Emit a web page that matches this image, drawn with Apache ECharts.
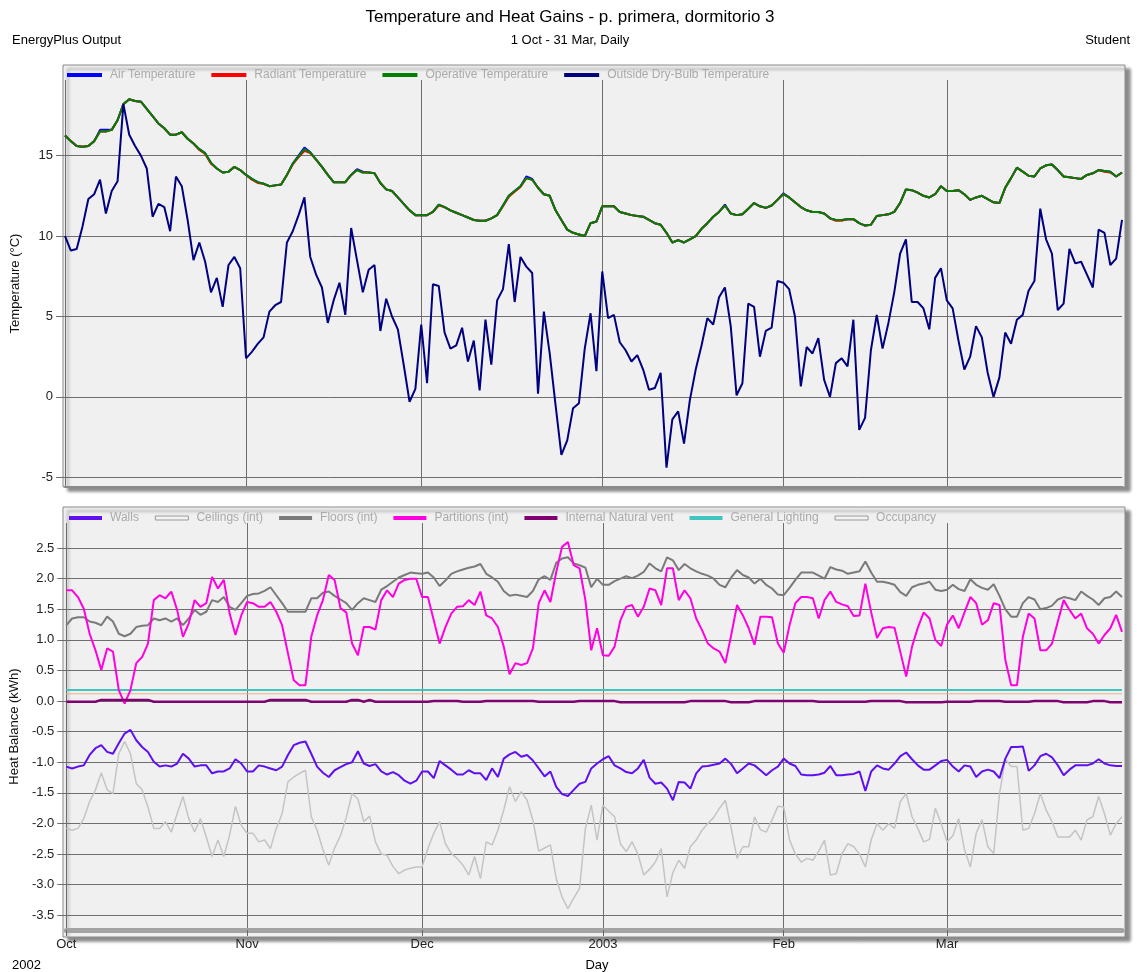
<!DOCTYPE html>
<html><head><meta charset="utf-8">
<script src="https://cdn.jsdelivr.net/npm/echarts@6/dist/echarts.min.js"></script>
<style>html,body{margin:0;padding:0;background:#fff}#c{width:1137px;height:972px}</style>
</head><body><div id="c"></div>
<script>
// ---------- categories / tick labels ----------
const startYear = 2002, startMonth = 9, startDay = 1, nDays = 182;
const monthStarts = ['2002-10-01','2002-11-01','2002-12-01','2003-01-01','2003-02-01','2003-03-01'];
const monthLabels = ['Oct','Nov','Dec','2003','Feb','Mar'];
const tempTicks = [-5, 0, 5, 10, 15];
const heatTicks = [-3.5,-3,-2.5,-2,-1.5,-1,-0.5,0,0.5,1,1.5,2,2.5];

// ---------- top panel series (°C) ----------
const outsideTemp = [
10.0,9.1,9.2,10.6,12.3,12.6,13.5,11.4,12.8,13.4,
18.2,16.3,15.6,15.0,14.2,11.2,12.0,11.8,10.3,13.7,
13.1,11.0,8.5,9.6,8.4,6.5,7.4,5.6,8.2,8.7,
8.0,2.4,2.8,3.3,3.7,5.3,5.7,5.9,9.6,10.3,
11.3,12.4,8.7,7.6,6.8,4.6,6.0,7.1,5.1,10.5,
8.5,6.5,7.9,8.2,4.1,6.1,5.0,4.2,2.0,-0.3,
0.5,4.5,0.85,7.0,6.9,4.0,3.0,3.2,4.3,2.2,
3.5,0.4,4.8,2.0,6.0,6.7,9.5,5.9,8.7,8.1,
7.7,0.2,5.3,2.7,-0.5,-3.6,-2.7,-0.7,-0.4,3.0,
5.2,1.6,7.8,4.9,5.1,3.4,2.9,2.2,2.6,1.7,
0.45,0.55,1.5,-4.4,-1.4,-0.9,-2.9,-0.2,1.7,3.2,
4.9,4.5,6.2,6.8,4.4,0.1,0.85,5.8,5.6,2.5,
4.1,4.3,7.2,7.1,6.7,5.0,0.65,3.1,2.7,3.65,
1.05,0.0,2.1,2.4,1.9,4.8,-2.05,-1.3,2.9,5.1,
3.0,4.6,6.5,8.9,9.8,5.9,5.9,5.5,4.2,7.4,
8.0,6.0,5.5,3.5,1.7,2.5,4.4,3.7,1.5,0.0,
1.2,4.0,3.3,4.8,5.1,6.6,7.2,11.7,9.8,8.9,
5.4,5.8,9.2,8.3,8.4,7.6,6.8,10.4,10.2,8.2,
8.6,11.0];
const operativeTemp = [
16.25,15.9,15.6,15.55,15.6,15.9,16.5,16.5,16.6,17.2,
18.2,18.5,18.4,18.35,17.9,17.45,17.0,16.7,16.3,16.3,
16.45,16.05,15.75,15.4,15.15,14.55,14.2,13.95,14.0,14.3,
14.1,13.8,13.55,13.35,13.25,13.1,13.15,13.2,13.8,14.5,
14.95,15.4,15.2,14.75,14.3,13.8,13.35,13.35,13.35,13.8,
14.1,13.95,13.95,13.9,13.3,12.9,12.8,12.4,12.0,11.6,
11.3,11.3,11.3,11.5,11.95,11.8,11.6,11.45,11.3,11.15,
11.0,10.95,10.95,11.1,11.3,11.9,12.5,12.8,13.1,13.6,
13.5,13.0,12.6,12.5,11.6,11.0,10.4,10.2,10.1,10.0,
10.8,10.9,11.85,11.85,11.85,11.5,11.4,11.3,11.25,11.2,
11.0,10.8,10.7,10.2,9.6,9.75,9.6,9.8,10.0,10.45,
10.8,11.2,11.5,11.9,11.4,11.3,11.35,11.7,12.05,11.85,
11.75,11.9,12.25,12.6,12.4,12.1,11.8,11.6,11.5,11.5,
11.4,11.1,11.0,11.0,11.05,11.05,10.8,10.65,10.7,11.25,
11.3,11.35,11.5,12.05,12.9,12.85,12.7,12.5,12.4,12.6,
13.1,12.8,12.8,12.85,12.6,12.25,12.4,12.5,12.3,12.1,
12.05,13.0,13.6,14.25,14.0,13.75,13.7,14.2,14.4,14.45,
14.1,13.7,13.65,13.6,13.55,13.8,13.9,14.1,14.05,14.0,
13.7,13.95];
const airTemp = [
16.25,15.9,15.6,15.55,15.6,15.9,16.6,16.6,16.6,17.2,
18.2,18.5,18.4,18.35,17.9,17.45,17.0,16.7,16.3,16.3,
16.45,16.05,15.75,15.4,15.15,14.55,14.2,13.95,14.0,14.3,
14.1,13.8,13.55,13.35,13.25,13.1,13.15,13.2,13.8,14.5,
15.0,15.5,15.2,14.75,14.3,13.8,13.35,13.35,13.35,13.8,
14.15,14.0,13.95,13.9,13.3,12.9,12.8,12.4,12.0,11.6,
11.3,11.3,11.3,11.5,11.95,11.8,11.6,11.45,11.3,11.15,
11.0,10.95,10.95,11.1,11.3,11.9,12.5,12.8,13.1,13.7,
13.55,13.0,12.6,12.5,11.6,11.0,10.4,10.2,10.1,10.0,
10.8,10.9,11.85,11.85,11.85,11.5,11.4,11.3,11.25,11.2,
11.0,10.8,10.7,10.2,9.6,9.75,9.6,9.8,10.0,10.45,
10.8,11.2,11.5,11.95,11.4,11.3,11.35,11.7,12.05,11.85,
11.75,11.9,12.25,12.65,12.4,12.1,11.8,11.6,11.5,11.5,
11.4,11.1,11.0,11.0,11.05,11.05,10.8,10.65,10.7,11.25,
11.3,11.35,11.5,12.05,12.9,12.85,12.7,12.5,12.4,12.6,
13.1,12.8,12.8,12.85,12.6,12.25,12.4,12.5,12.3,12.1,
12.05,13.0,13.6,14.25,14.0,13.75,13.7,14.2,14.4,14.45,
14.1,13.7,13.65,13.6,13.55,13.8,13.9,14.1,14.05,14.0,
13.7,13.95];
const radiantTemp = [
16.25,15.9,15.6,15.55,15.6,15.9,16.5,16.5,16.6,17.2,
18.2,18.5,18.4,18.35,17.9,17.45,17.0,16.7,16.3,16.3,
16.45,16.05,15.75,15.35,15.1,14.5,14.2,13.95,14.0,14.3,
14.1,13.8,13.5,13.3,13.25,13.1,13.15,13.2,13.8,14.45,
14.9,15.3,15.15,14.75,14.3,13.8,13.35,13.35,13.35,13.8,
14.1,13.95,13.95,13.9,13.3,12.9,12.8,12.4,12.0,11.6,
11.3,11.3,11.3,11.5,11.9,11.8,11.6,11.45,11.3,11.15,
11.0,10.95,10.95,11.1,11.3,11.85,12.45,12.75,13.05,13.6,
13.5,13.0,12.6,12.5,11.6,11.0,10.4,10.2,10.1,10.0,
10.8,10.9,11.85,11.85,11.85,11.5,11.4,11.3,11.25,11.2,
11.0,10.8,10.7,10.2,9.6,9.75,9.6,9.8,10.0,10.45,
10.8,11.2,11.5,11.9,11.4,11.3,11.35,11.7,12.05,11.85,
11.75,11.9,12.25,12.6,12.4,12.1,11.8,11.6,11.5,11.5,
11.4,11.1,10.95,10.95,11.05,11.05,10.8,10.65,10.7,11.25,
11.3,11.35,11.5,12.05,12.9,12.85,12.7,12.5,12.4,12.6,
13.1,12.8,12.8,12.85,12.6,12.25,12.4,12.5,12.3,12.1,
12.05,13.0,13.6,14.25,14.0,13.75,13.7,14.2,14.4,14.45,
14.1,13.7,13.65,13.6,13.55,13.8,13.9,14.1,14.0,13.95,
13.7,13.95];

// ---------- bottom panel series (kWh) ----------
const walls = [
-1.07,-1.1,-1.07,-1.05,-0.88,-0.77,-0.72,-0.83,-0.86,-0.69,
-0.53,-0.47,-0.64,-0.75,-0.83,-0.99,-1.07,-1.05,-1.07,-1.02,
-0.86,-0.94,-1.07,-1.05,-1.05,-1.18,-1.15,-1.15,-1.1,-0.95,
-1.02,-1.15,-1.15,-1.05,-1.07,-1.1,-1.13,-1.07,-0.88,-0.72,
-0.68,-0.66,-0.86,-1.07,-1.17,-1.24,-1.13,-1.08,-1.03,-1.0,
-0.82,-1.02,-1.06,-1.03,-1.15,-1.2,-1.16,-1.21,-1.3,-1.35,
-1.3,-1.15,-1.15,-1.26,-0.98,-1.05,-1.12,-1.2,-1.2,-1.13,
-1.18,-1.18,-1.29,-1.1,-1.24,-0.94,-0.87,-0.83,-0.91,-0.88,
-0.97,-1.1,-1.23,-1.15,-1.4,-1.52,-1.55,-1.45,-1.35,-1.32,
-1.1,-1.02,-0.95,-0.9,-1.05,-1.1,-1.16,-1.18,-1.1,-0.96,
-1.25,-1.35,-1.33,-1.43,-1.62,-1.32,-1.33,-1.43,-1.18,-1.07,
-1.06,-1.04,-1.02,-0.94,-1.03,-1.18,-1.1,-1.02,-1.05,-1.13,
-1.21,-1.13,-1.07,-0.94,-1.02,-1.06,-1.2,-1.21,-1.21,-1.2,
-1.17,-1.06,-1.21,-1.21,-1.2,-1.19,-1.15,-1.47,-1.15,-1.05,
-1.1,-1.12,-1.02,-0.9,-0.84,-0.95,-1.05,-1.12,-1.12,-1.05,
-0.98,-0.96,-1.07,-1.15,-1.05,-1.07,-1.24,-1.15,-1.12,-1.15,
-1.26,-0.94,-0.75,-0.75,-0.74,-1.14,-1.05,-0.9,-0.86,-0.92,
-1.05,-1.21,-1.12,-1.05,-1.05,-1.05,-1.02,-0.95,-1.02,-1.05,
-1.06,-1.06];
const ceilings = [
-2.08,-2.11,-2.08,-1.92,-1.64,-1.45,-1.17,-1.45,-1.51,-0.86,
-0.66,-0.86,-1.35,-1.45,-1.73,-2.08,-2.08,-1.97,-2.14,-1.84,
-1.56,-1.92,-2.14,-1.92,-2.22,-2.54,-2.27,-2.54,-2.19,-1.72,
-2.03,-2.16,-2.16,-2.3,-2.27,-2.41,-2.08,-1.84,-1.32,-1.24,
-1.18,-1.13,-1.89,-2.11,-2.43,-2.68,-2.4,-2.2,-1.9,-1.51,
-1.6,-1.97,-1.88,-2.3,-2.5,-2.52,-2.7,-2.82,-2.76,-2.73,
-2.71,-2.71,-2.41,-2.16,-1.97,-2.33,-2.49,-2.57,-2.68,-2.84,
-2.54,-2.9,-2.3,-2.35,-2.11,-1.78,-1.4,-1.64,-1.48,-1.62,
-1.95,-2.45,-2.4,-2.35,-2.9,-3.2,-3.39,-3.22,-3.06,-2.08,
-1.7,-2.27,-1.7,-1.8,-1.89,-2.33,-2.46,-2.3,-2.5,-2.84,
-2.75,-2.63,-2.41,-3.2,-2.8,-2.6,-2.73,-2.38,-2.27,-2.11,
-2.0,-1.9,-1.75,-1.62,-2.08,-2.57,-2.38,-2.38,-1.89,-2.1,
-2.14,-1.94,-1.72,-1.73,-2.27,-2.5,-2.63,-2.57,-2.6,-2.45,
-2.27,-2.84,-2.82,-2.49,-2.33,-2.38,-2.5,-2.71,-2.27,-2.0,
-2.11,-2.0,-2.08,-1.64,-1.51,-1.89,-2.08,-2.3,-2.26,-1.75,
-2.0,-2.3,-2.2,-1.92,-2.43,-2.71,-2.16,-1.94,-2.38,-2.49,
-1.51,-0.95,-1.07,-1.07,-2.11,-2.08,-1.84,-1.51,-1.78,-1.97,
-2.22,-2.22,-2.22,-2.11,-2.27,-1.94,-1.89,-1.56,-1.84,-2.19,
-2.0,-1.89];
const floors = [
1.24,1.35,1.37,1.37,1.3,1.28,1.24,1.38,1.3,1.1,
1.06,1.1,1.21,1.23,1.24,1.35,1.32,1.35,1.3,1.35,
1.24,1.35,1.49,1.41,1.46,1.65,1.62,1.7,1.54,1.49,
1.6,1.72,1.75,1.76,1.8,1.86,1.73,1.6,1.46,1.46,
1.46,1.46,1.68,1.68,1.77,1.79,1.72,1.66,1.6,1.49,
1.6,1.68,1.65,1.62,1.82,1.88,1.95,2.02,2.06,2.1,
2.09,2.08,2.1,2.02,1.88,1.97,2.08,2.12,2.15,2.18,
2.2,2.24,2.08,2.02,1.95,1.8,1.72,1.74,1.72,1.7,
1.8,1.99,2.04,1.98,2.26,2.33,2.35,2.25,2.22,2.18,
1.86,2.0,1.9,1.9,1.96,2.0,2.04,2.01,2.05,2.11,
2.25,2.17,2.12,2.35,2.3,2.14,2.24,2.17,2.12,2.08,
2.05,2.0,1.9,1.86,2.02,2.14,2.06,2.02,1.92,2.0,
1.9,1.84,1.74,1.73,1.85,1.98,2.1,2.1,2.1,2.05,
2.0,2.19,2.15,2.13,2.08,2.1,2.12,2.28,2.1,1.95,
1.95,1.93,1.9,1.78,1.72,1.86,1.9,1.92,1.95,1.82,
1.8,1.82,1.9,1.83,1.8,1.99,1.9,1.85,1.82,1.91,
1.72,1.5,1.38,1.38,1.6,1.7,1.66,1.5,1.52,1.56,
1.66,1.7,1.68,1.65,1.79,1.72,1.66,1.57,1.68,1.7,
1.79,1.7];
const partitions = [
1.81,1.81,1.7,1.51,1.1,0.83,0.51,0.86,0.81,0.18,
-0.04,0.18,0.62,0.72,0.94,1.65,1.73,1.68,1.79,1.49,
1.05,1.27,1.65,1.54,1.6,2.03,1.84,1.98,1.43,1.08,
1.4,1.62,1.6,1.54,1.54,1.62,1.46,1.24,0.78,0.34,
0.26,0.26,1.05,1.4,1.65,2.06,1.98,1.52,1.45,0.94,
0.75,1.21,1.21,1.17,1.65,1.81,1.7,1.92,1.98,2.0,
2.0,1.7,1.7,1.32,0.94,1.21,1.43,1.54,1.55,1.65,
1.57,1.79,1.4,1.35,1.21,0.89,0.44,0.62,0.59,0.62,
0.86,1.6,1.81,1.62,2.11,2.52,2.6,2.22,2.17,1.65,
0.83,1.19,0.75,0.74,0.89,1.32,1.54,1.57,1.38,1.54,
1.84,1.81,1.57,2.17,2.17,1.65,1.81,1.68,1.35,1.16,
0.94,0.86,0.81,0.62,1.08,1.57,1.4,1.19,0.92,1.38,
1.38,1.37,0.94,0.79,1.24,1.6,1.7,1.7,1.68,1.35,
1.65,1.79,1.62,1.58,1.55,1.39,1.4,1.92,1.45,1.03,
1.19,1.21,1.2,0.8,0.4,0.89,1.2,1.45,1.35,1.0,
0.9,1.25,1.4,1.19,1.45,1.7,1.6,1.25,1.32,1.6,
1.57,0.67,0.26,0.26,1.05,1.43,1.35,0.83,0.83,0.94,
1.3,1.65,1.49,1.35,1.43,1.19,1.1,0.94,1.08,1.19,
1.41,1.13];
const naturalVent = [
-0.01,-0.01,-0.01,-0.01,-0.01,-0.01,0.02,0.02,0.02,0.02,
0.02,0.02,0.02,0.02,0.02,-0.01,-0.01,-0.01,-0.01,-0.01,
-0.01,-0.01,-0.01,-0.01,-0.01,-0.01,-0.01,-0.01,-0.01,-0.01,
-0.01,-0.01,-0.01,-0.01,-0.01,0.02,0.02,0.02,0.02,0.02,
0.02,0.02,-0.01,-0.01,-0.01,-0.01,-0.01,-0.01,-0.01,0.02,
0.02,-0.01,0.02,-0.01,-0.01,-0.01,-0.01,-0.01,-0.01,-0.01,
-0.01,-0.01,-0.01,0.0,0.0,0.0,0.0,0.0,-0.01,-0.01,
-0.01,-0.01,0.0,0.0,0.0,0.0,0.0,0.0,0.0,0.0,
0.0,-0.01,-0.01,-0.01,-0.01,-0.01,-0.01,-0.01,0.0,0.0,
0.0,0.0,0.0,0.0,0.0,-0.02,-0.02,-0.02,-0.02,-0.02,
-0.02,-0.02,-0.02,-0.02,-0.02,-0.02,-0.02,0.0,0.0,0.0,
0.0,0.0,0.0,0.0,-0.02,-0.02,-0.02,-0.02,0.0,0.0,
0.0,0.0,0.0,0.0,0.0,0.0,0.0,0.0,0.0,-0.01,
-0.01,-0.01,-0.01,-0.01,-0.01,-0.01,-0.01,-0.01,0.0,0.0,
0.0,0.0,0.0,0.0,-0.02,-0.02,-0.02,-0.02,-0.02,-0.02,
-0.02,-0.01,-0.01,-0.01,-0.01,-0.01,0.0,0.0,0.0,0.0,
0.0,-0.01,-0.01,-0.01,-0.01,-0.01,0.0,0.0,0.0,0.0,
0.0,-0.02,-0.02,-0.02,-0.02,-0.02,0.0,0.0,0.0,-0.02,
-0.02,-0.02];
const lightingEnds = [0.18, 0.18];   // constant over the period (first day, last day)
const occupancyEnds = [0.12, 0.12];

// ---------- build ----------
const days = [];
for (let i = 0; i < nDays; i++) {
  days.push(new Date(Date.UTC(startYear, startMonth, startDay + i)).toISOString().slice(0, 10));
}
const firstDay = days[0], lastDay = days[days.length - 1];
const FONT = 'Arial, "Liberation Sans", sans-serif';
const GRID = '#6e6e6e';
const isMonth = (i, v) => monthStarts.indexOf(v) >= 0;

function xAxisCfg(gi, withLabels) {
  return {
    type: 'category', gridIndex: gi, data: days, boundaryGap: false,
    axisLine: { show: true, onZero: false, lineStyle: { color: withLabels ? '#a3a3a3' : '#8a8a8a', width: withLabels ? 5 : 2 } },
    axisTick: { show: withLabels, interval: isMonth, length: 6, lineStyle: { color: '#666' } },
    axisLabel: { show: withLabels, interval: isMonth, margin: 8, color: '#222', fontSize: 13, fontFamily: FONT,
      formatter: v => { const k = monthStarts.indexOf(v); return k >= 0 ? monthLabels[k] : ''; } },
    splitLine: { show: true, interval: isMonth, lineStyle: { color: GRID, width: 1 } }
  };
}
function yAxisCfg(gi, min, max, split, ticks, name, fmt) {
  return {
    type: 'value', gridIndex: gi, min: min, max: max, splitNumber: split,
    axisLine: { show: false },
    axisTick: { show: true, length: 9, lineStyle: { color: GRID } },
    axisLabel: { color: '#222', fontSize: 13, fontFamily: FONT, margin: 12, showMinLabel: false, showMaxLabel: false,
      formatter: v => (ticks.some(t => Math.abs(t - v) < 1e-6) ? fmt(v) : '') },
    splitLine: { show: true, showMinLine: false, showMaxLine: false, lineStyle: { color: GRID, width: 1 } },
    name: name, nameLocation: 'middle', nameGap: 43, nameRotate: 90,
    nameTextStyle: { color: '#111', fontSize: 13, fontFamily: FONT }
  };
}
function line(name, data, color, xi, width, z) {
  return { type: 'line', name: name, data: data, xAxisIndex: xi, yAxisIndex: xi, showSymbol: false, symbol: 'none',
    lineStyle: { color: color, width: width }, itemStyle: { color: color }, z: z || 2, animation: false };
}
const hollow = { color: '#f2f2f2', borderColor: '#9a9a9a', borderWidth: 1 };

const chart = echarts.init(document.getElementById('c'), null, { renderer: 'canvas' });
chart.setOption({
  animation: false,
  backgroundColor: '#ffffff',
  textStyle: { fontFamily: FONT },
  grid: [
    { left: 65, right: 15, top: 80, height: 407 },
    { left: 65, right: 15, top: 523, height: 407 }
  ],
  xAxis: [xAxisCfg(0, false), xAxisCfg(1, true)],
  yAxis: [
    yAxisCfg(0, -5.6, 19.7, 5, tempTicks, 'Temperature (°C)', v => String(v)),
    yAxisCfg(1, -3.74, 2.91, 13, heatTicks, 'Heat Balance (kWh)', v => v.toFixed(1))
  ],
  legend: [
    { left: 62, top: 64, icon: 'rect', itemWidth: 35, itemHeight: 4, itemGap: 16, selectedMode: false,
      textStyle: { color: '#aaaaaa', fontSize: 12, fontFamily: FONT, padding: [0, 0, 0, 3] },
      data: ['Air Temperature', 'Radiant Temperature', 'Operative Temperature', 'Outside Dry-Bulb Temperature'] },
    { left: 64, top: 507, icon: 'rect', itemWidth: 33, itemHeight: 4, itemGap: 16, selectedMode: false,
      textStyle: { color: '#aaaaaa', fontSize: 12, fontFamily: FONT, padding: [0, 0, 0, 3] },
      data: [{ name: 'Walls' }, { name: 'Ceilings (int)', itemStyle: hollow }, { name: 'Floors (int)' },
             { name: 'Partitions (int)' }, { name: 'Internal Natural vent' }, { name: 'General Lighting' },
             { name: 'Occupancy', itemStyle: hollow }] }
  ],
  graphic: [
    { type: 'rect', z: -10, zlevel: 0, shape: { x: 63, y: 65, width: 1062, height: 422 },
      style: { fill: '#f0f0f0', stroke: '#8a8a8a', lineWidth: 1, shadowBlur: 3, shadowOffsetX: 5, shadowOffsetY: 4, shadowColor: 'rgba(0,0,0,0.45)' } },
    { type: 'rect', z: -10, zlevel: 0, shape: { x: 63, y: 507, width: 1062, height: 430 },
      style: { fill: '#f0f0f0', stroke: '#8a8a8a', lineWidth: 1, shadowBlur: 3, shadowOffsetX: 5, shadowOffsetY: 4, shadowColor: 'rgba(0,0,0,0.45)' } },
    { type: 'text', x: 570, y: 17, style: { text: 'Temperature and Heat Gains - p. primera, dormitorio 3', fontSize: 17, fontFamily: FONT, fill: '#000', align: 'center', verticalAlign: 'middle', textAlign: 'center', textVerticalAlign: 'middle' } },
    { type: 'text', x: 12, y: 40, style: { text: 'EnergyPlus Output', fontSize: 13, fontFamily: FONT, fill: '#000', align: 'left', verticalAlign: 'middle', textAlign: 'left', textVerticalAlign: 'middle' } },
    { type: 'text', x: 570, y: 40, style: { text: '1 Oct - 31 Mar, Daily', fontSize: 13, fontFamily: FONT, fill: '#000', align: 'center', verticalAlign: 'middle', textAlign: 'center', textVerticalAlign: 'middle' } },
    { type: 'text', x: 1130, y: 40, style: { text: 'Student', fontSize: 13, fontFamily: FONT, fill: '#000', align: 'right', verticalAlign: 'middle', textAlign: 'right', textVerticalAlign: 'middle' } },
    { type: 'text', x: 12, y: 965, style: { text: '2002', fontSize: 13, fontFamily: FONT, fill: '#000', align: 'left', verticalAlign: 'middle', textAlign: 'left', textVerticalAlign: 'middle' } },
    { type: 'text', x: 597, y: 965, style: { text: 'Day', fontSize: 13, fontFamily: FONT, fill: '#000', align: 'center', verticalAlign: 'middle', textAlign: 'center', textVerticalAlign: 'middle' } }
  ],
  series: [
    line('Air Temperature', airTemp, '#0000ff', 0, 2, 2),
    line('Radiant Temperature', radiantTemp, '#ff0000', 0, 2, 3),
    line('Operative Temperature', operativeTemp, '#008000', 0, 2, 4),
    line('Outside Dry-Bulb Temperature', outsideTemp, '#000080', 0, 2, 5),
    line('Walls', walls, '#6010f0', 1, 2, 3),
    line('Ceilings (int)', ceilings, '#c4c4c4', 1, 1.5, 2),
    line('Floors (int)', floors, '#7a7a7a', 1, 2, 3),
    line('Partitions (int)', partitions, '#ff00e0', 1, 2, 4),
    line('Internal Natural vent', naturalVent, '#800070', 1, 2.5, 4),
    line('General Lighting', [[firstDay, lightingEnds[0]], [lastDay, lightingEnds[1]]], '#40c4c0', 1, 2, 3),
    line('Occupancy', [[firstDay, occupancyEnds[0]], [lastDay, occupancyEnds[1]]], '#f0b080', 1, 1, 3)
  ]
});
</script>
</body></html>
